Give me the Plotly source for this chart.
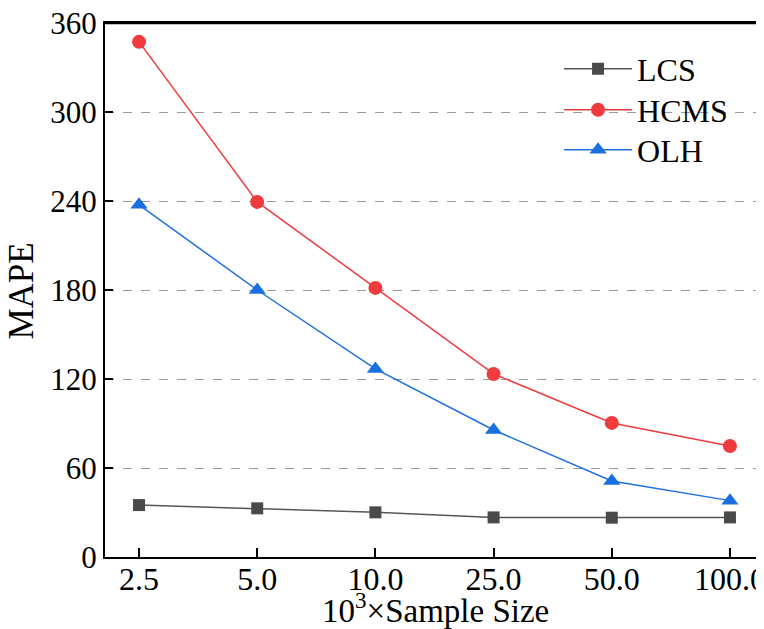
import plotly.graph_objects as go

categories = ["2.5", "5.0", "10.0", "25.0", "50.0", "100.0"]
lcs = [35.0, 32.8, 30.1, 26.7, 26.5, 26.7]
hcms = [347.3, 239.4, 181.4, 123.4, 90.4, 74.8]
olh = [237.4, 180.0, 126.8, 85.6, 51.2, 38.0]
y_ticks = [0, 60, 120, 180, 240, 300, 360]

xpos = list(range(len(categories)))
FONT = "Liberation Serif"

fig = go.Figure()
fig.add_trace(go.Scatter(x=xpos, y=lcs, name="LCS", mode="lines+markers", legend="legend",
                         line=dict(color="#555555", width=1.5),
                         marker=dict(symbol="square", size=12, color="#4a4a4a")))
fig.add_trace(go.Scatter(x=xpos, y=hcms, name="HCMS", mode="lines+markers", legend="legend2",
                         line=dict(color="#ef3b3e", width=1.5),
                         marker=dict(symbol="circle", size=14, color="#ef3b3e")))
fig.add_trace(go.Scatter(x=xpos, y=olh, name="OLH", mode="lines+markers", legend="legend3",
                         line=dict(color="#1f6fe0", width=1.5),
                         marker=dict(symbol="triangle-up", size=15, color="#1a6fe0")))

# top frame line
fig.add_shape(type="line", xref="paper", yref="paper", x0=0, x1=1.02, y0=1, y1=1,
              layer="above", line=dict(color="black", width=2.5))

leg_common = dict(x=0.689, xanchor="left", yanchor="middle", bgcolor="rgba(0,0,0,0)",
                  font=dict(size=32, family=FONT), itemwidth=68)

fig.update_layout(
    width=764, height=629,
    margin=dict(l=97, r=8, t=15, b=80, autoexpand=False),
    paper_bgcolor="white", plot_bgcolor="white",
    font=dict(family=FONT, size=31, color="black"),
    showlegend=True,
    legend=dict(y=0.9139, **leg_common),
    legend2=dict(y=0.8371, **leg_common),
    legend3=dict(y=0.7622, **leg_common),
    xaxis=dict(range=[-0.288, 5.288], tickvals=xpos, ticktext=categories,
               showgrid=False, zeroline=False, showline=True, linecolor="black",
               linewidth=2, mirror=True, ticks="inside", ticklen=9, tickwidth=1.5,
               tickcolor="black", tickfont=dict(size=32, family=FONT),
               ticklabelstandoff=-7, automargin=False),
    yaxis=dict(range=[0, 360], tickvals=y_ticks, showgrid=True, gridcolor="#999999",
               griddash="dash", gridwidth=1, zeroline=False, showline=True,
               linecolor="black", linewidth=2, ticks="inside", ticklen=8, tickwidth=1.5,
               tickcolor="black", tickfont=dict(size=31, family=FONT),
               ticklabeloverflow="allow", automargin=False),
    annotations=[
        dict(text="10<sup>3</sup>×Sample Size", xref="paper", yref="paper",
             x=0.5008, y=-0.0955, xanchor="center", yanchor="middle", showarrow=False,
             font=dict(size=33, family=FONT)),
        dict(text="MAPE", xref="paper", yref="paper", x=-0.1267, y=0.498,
             xanchor="center", yanchor="middle", textangle=-90, showarrow=False,
             font=dict(size=35, family=FONT)),
    ],
)

fig.write_html("out.html")
